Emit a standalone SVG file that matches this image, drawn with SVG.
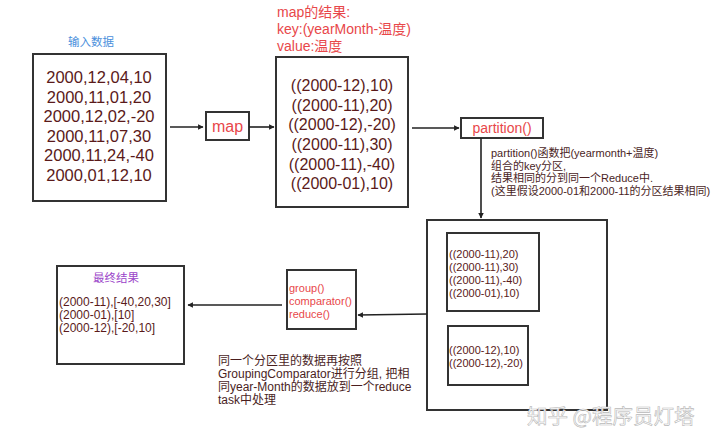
<svg xmlns="http://www.w3.org/2000/svg" width="720" height="445" viewBox="0 0 720 445">
<style>
text{font-family:"Liberation Sans","Noto Sans CJK SC",sans-serif}
.box{fill:#fff;stroke:#333;stroke-width:2}
.data{fill:#5a1a1a}
.red{fill:#e8474a}
.note{fill:#4a1e1e;font-size:12px}
.line{stroke:#222;stroke-width:1.6;fill:none}
</style>
<defs>
<marker id="ah" viewBox="0 0 10 10" refX="9" refY="5" markerWidth="5.5" markerHeight="5.5" orient="auto" markerUnits="userSpaceOnUse">
<path d="M0,0 L10,5 L0,10 z" fill="#222"/>
</marker>
</defs>
<rect width="720" height="445" fill="#fff"/>

<g id="input">
<text x="91" y="46" text-anchor="middle" font-size="11.5" fill="#4a8fdc">输入数据</text>
<rect class="box" x="33" y="54" width="133" height="147"/>
<g class="data" font-size="16.5" text-anchor="middle">
<text x="99" y="83">2000,12,04,10</text>
<text x="99" y="102.5">2000,11,01,20</text>
<text x="99" y="122">2000,12,02,-20</text>
<text x="99" y="141.5">2000,11,07,30</text>
<text x="99" y="161">2000,11,24,-40</text>
<text x="99" y="180.5">2000,01,12,10</text>
</g>
</g>

<g id="map">
<rect class="box" x="206" y="112" width="43" height="28"/>
<text class="red" x="227.5" y="132" font-size="16" text-anchor="middle">map</text>
</g>

<g id="mapresult">
<g class="red" font-size="14">
<text x="277" y="17">map的结果:</text>
<text x="277" y="34">key:(yearMonth-温度)</text>
<text x="277" y="51">value:温度</text>
</g>
<rect class="box" x="276" y="57" width="132" height="150"/>
<g class="data" font-size="16" text-anchor="middle">
<text x="342" y="91">((2000-12),10)</text>
<text x="342" y="110.5">((2000-11),20)</text>
<text x="342" y="130">((2000-12),-20)</text>
<text x="342" y="150">((2000-11),30)</text>
<text x="342" y="169.5">((2000-11),-40)</text>
<text x="342" y="189">((2000-01),10)</text>
</g>
</g>

<g id="partition">
<rect class="box" x="461" y="118" width="82" height="20"/>
<text class="red" x="502" y="133" font-size="14" text-anchor="middle">partition()</text>
</g>

<g id="partition-note" class="note" style="font-size:11px">
<text x="491" y="157">partition()函数把(yearmonth+温度)</text>
<text x="491" y="169.5">组合的key分区,</text>
<text x="491" y="182">结果相同的分到同一个Reduce中.</text>
<text x="491" y="195">(这里假设2000-01和2000-11的分区结果相同)</text>
</g>

<g id="reducers">
<rect class="box" x="427" y="220" width="180" height="190"/>
<rect class="box" x="447" y="233" width="92" height="78"/>
<g class="data" font-size="11">
<text x="449" y="258">((2000-11),20)</text>
<text x="449" y="271">((2000-11),30)</text>
<text x="449" y="284">((2000-11),-40)</text>
<text x="449" y="297">((2000-01),10)</text>
</g>
<rect class="box" x="448" y="326" width="80" height="59"/>
<g class="data" font-size="11">
<text x="449" y="354">((2000-12),10)</text>
<text x="449" y="367">((2000-12),-20)</text>
</g>
</g>

<g id="reduce">
<rect class="box" x="287" y="270" width="69" height="59"/>
<g class="red" font-size="11">
<text x="289" y="292">group()</text>
<text x="289" y="305">comparator()</text>
<text x="289" y="318">reduce()</text>
</g>
</g>

<g id="final">
<rect class="box" x="57" y="266" width="127" height="98"/>
<text x="116" y="282" text-anchor="middle" font-size="11.5" fill="#9b45c9">最终结果</text>
<g class="data" font-size="12">
<text x="59" y="306">(2000-11),[-40,20,30]</text>
<text x="59" y="319">(2000-01),[10]</text>
<text x="59" y="332">(2000-12),[-20,10]</text>
</g>
</g>

<g id="group-note" class="note">
<text x="218" y="365">同一个分区里的数据再按照</text>
<text x="218" y="378">GroupingComparator进行分组, 把相</text>
<text x="218" y="391">同year-Month的数据放到一个reduce</text>
<text x="218" y="404">task中处理</text>
</g>

<g id="connectors" class="line">
<line x1="170" y1="127" x2="203" y2="127" marker-end="url(#ah)"/>
<line x1="249" y1="127" x2="274" y2="127" marker-end="url(#ah)"/>
<line x1="412" y1="128" x2="459" y2="128" marker-end="url(#ah)"/>
<line x1="481" y1="138" x2="481" y2="218" marker-end="url(#ah)"/>
<line x1="427" y1="314" x2="358" y2="315" marker-end="url(#ah)"/>
<line x1="282" y1="305" x2="188" y2="305" marker-end="url(#ah)"/>
</g>

<text x="527" y="424" font-size="20.5" fill="#fff" stroke="#b8b8b8" stroke-width="0.6" style="font-family:'Noto Sans CJK SC',sans-serif">知乎 @程序员灯塔</text>
</svg>
